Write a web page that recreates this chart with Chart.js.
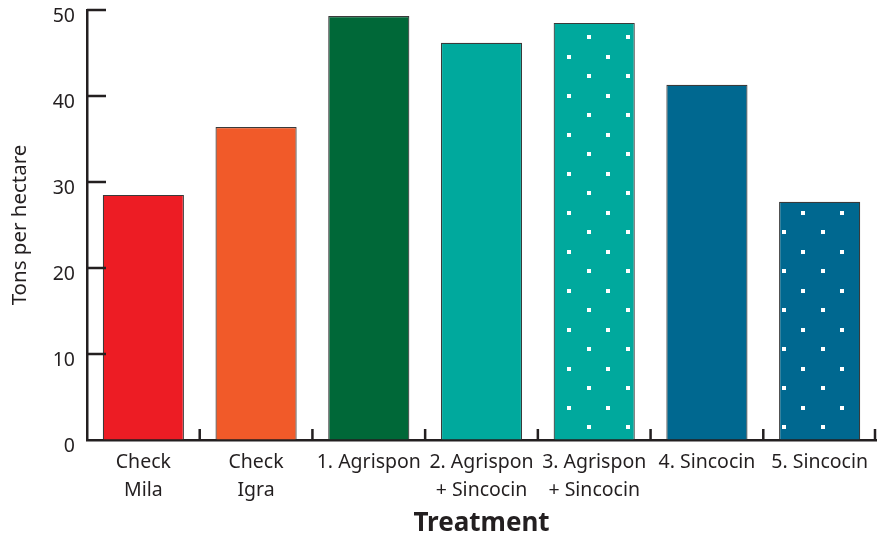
<!DOCTYPE html>
<html>
<head>
<meta charset="utf-8">
<script src="https://cdn.jsdelivr.net/npm/chart.js@4.4.0/dist/chart.umd.min.js"></script>
<style>
  html, body { margin: 0; padding: 0; background: #fff; }
  #wrap { width: 879px; height: 539px; }
</style>
</head>
<body>
<div id="wrap"><canvas id="myChart" width="879" height="539"></canvas></div>
<script>
//chart data
var treatments = [["Check", "Mila"], ["Check", "Igra"], "1. Agrispon",
                  ["2. Agrispon", "+ Sincocin"], ["3. Agrispon", "+ Sincocin"],
                  "4. Sincocin", "5. Sincocin"];
var tonsPerHectare = [28.5, 36.4, 49.3, 46.2, 48.5, 41.3, 27.7];
var yTicks = [0, 10, 20, 30, 40, 50];
var barColors = ["#ed1c24", "#f15a29", "#006838", "#00a99d", "#00a99d", "#006890", "#006890"];
var dotted = [false, false, false, false, true, false, true];

var ink = "#231f20";
var font = "'Noto Sans', sans-serif";

//white dots on a coloured tile
function dotPattern(color){
	var tile = document.createElement('canvas');
	tile.width = 39;
	tile.height = 39;
	var t = tile.getContext('2d');
	t.fillStyle = color;
	t.fillRect(0, 0, 39, 39);
	t.fillStyle = "#fff";
	t.fillRect(2, 35, 4, 4);
	t.fillRect(21, 16, 4, 4);
	return t.createPattern(tile, 'repeat');
}

var ctx = document.getElementById("myChart");
var fills = [];
for(var i = 0; i < barColors.length; i++)
{
	fills.push(dotted[i] ? dotPattern(barColors[i]) : barColors[i]);
}

//short ticks pointing into the plot
var innerTicks = {
	id: 'innerTicks',
	afterDraw: function(chart){
		var c = chart.ctx;
		var x = chart.scales.x;
		var y = chart.scales.y;
		var a = chart.chartArea;
		c.save();
		c.strokeStyle = ink;
		c.lineWidth = 2.5;
		c.beginPath();
		for(var i = 1; i < yTicks.length; i++)
		{
			var py = y.getPixelForValue(yTicks[i]);
			c.moveTo(a.left, py);
			c.lineTo(a.left + 19, py);
		}
		for(var j = 0; j < treatments.length; j++)
		{
			var px = j == treatments.length - 1 ? a.right - 1 :
				(x.getPixelForValue(j) + x.getPixelForValue(j + 1)) / 2;
			c.moveTo(px, a.bottom);
			c.lineTo(px, a.bottom - 11);
		}
		c.stroke();
		c.restore();
	}
};

var myBarChart = new Chart(ctx, {
	type: 'bar',
	data: {
		labels: treatments,
		datasets: [{
			data: tonsPerHectare,
			backgroundColor: fills,
			borderColor: '#3a3a3a',
			borderWidth: 1.2,
			borderSkipped: 'bottom',
			categoryPercentage: 1,
			barPercentage: 0.72
		}]
	},
	options: {
		responsive: false,
		animation: false,
		layout: { padding: { top: 10, right: 3, left: 0, bottom: 0 } },
		plugins: { legend: { display: false }, tooltip: { enabled: false } },
		scales: {
			x: {
				offset: true,
				grid: { display: true, drawOnChartArea: false, drawTicks: false },
				border: { display: true, color: ink, width: 2.5 },
				ticks: { color: ink, font: { family: font, size: 19.5, lineHeight: 1.4 }, padding: 9 },
				title: { display: true, text: 'Treatment', color: ink,
					font: { family: font, size: 26, weight: 'bold' }, padding: { top: 10, bottom: 0 } },
				afterFit: function(s){ s.height = 99; }
			},
			y: {
				min: 0,
				max: 50,
				afterBuildTicks: function(s){ s.ticks = yTicks.map(function(v){ return { value: v }; }); },
				grid: { display: true, drawOnChartArea: false, drawTicks: false },
				border: { display: true, color: ink, width: 2.5 },
				ticks: { color: ink, font: { family: font, size: 19.5 }, padding: 12, labelOffset: 6 },
				title: { display: true, text: 'Tons per hectare', color: ink,
					font: { family: font, size: 20.5 }, padding: { top: 8, bottom: 0 } },
				afterFit: function(s){ s.width = 87; s.paddingTop = 0; s.paddingBottom = 0; }
			}
		}
	},
	plugins: [innerTicks]
});
</script>
</body>
</html>
